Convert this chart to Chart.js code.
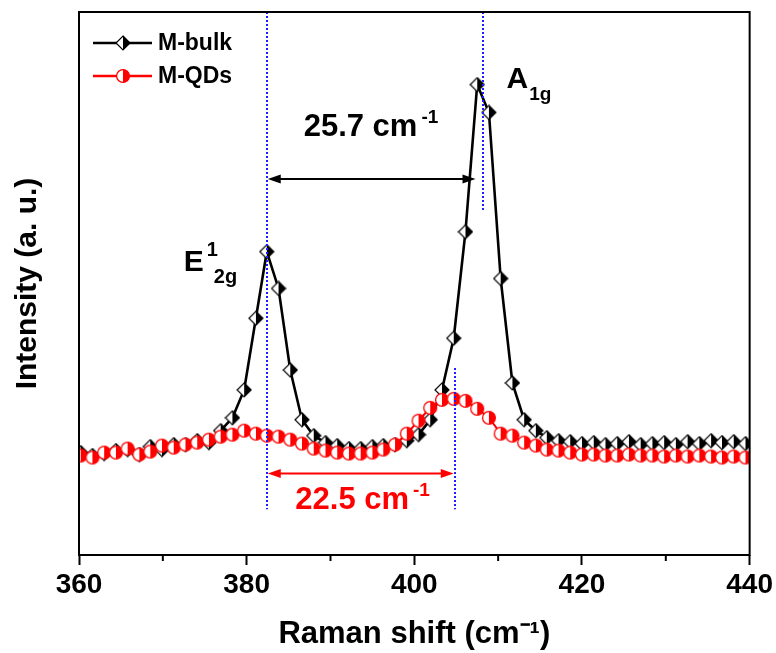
<!DOCTYPE html>
<html><head><meta charset="utf-8">
<script src="https://cdn.jsdelivr.net/npm/chart.js@4.4.1/dist/chart.umd.min.js"></script>
<style>html,body{margin:0;padding:0;background:#fff}#wrap{width:776px;height:653px;position:relative}</style>
</head><body><div id="wrap"><canvas id="c" width="776" height="653"></canvas></div>
<script>
// ---- data ----
const ramanShift = [360.2, 361.6, 363.0, 364.4, 365.8, 367.2, 368.5, 369.9, 371.3, 372.7,
  374.1, 375.5, 376.9, 378.3, 379.7, 381.1, 382.4, 383.8, 385.2, 386.6,
  388.0, 389.4, 390.8, 392.2, 393.6, 395.0, 396.3, 397.7, 399.1, 400.5,
  401.9, 403.3, 404.7, 406.1, 407.5, 408.9, 410.3, 411.7, 413.1, 414.5,
  415.8, 417.2, 418.6, 420.0, 421.4, 422.8, 424.2, 425.6, 427.0, 428.4,
  429.8, 431.2, 432.6, 434.0, 435.4, 436.7, 438.1, 439.5];
const bulkIntensity = [103, 100, 102, 105, 106, 101, 109, 106, 111, 111,
  115, 113, 125, 138, 166, 238, 305, 268, 186, 136,
  120, 113, 110, 107, 107, 109, 110, 111, 115, 121,
  136, 166, 218, 325, 473, 445, 278, 173, 136, 125,
  118, 115, 114, 112, 113, 111, 112, 114, 111, 112,
  113, 111, 114, 112, 115, 113, 114, 112];
const qdsIntensity = [100, 98, 103, 103, 107, 101, 104, 110, 108, 111,
  113, 116, 119, 121, 125, 122, 120, 119, 116, 112,
  107, 105, 103, 102, 102, 103, 106, 111, 122, 135,
  148, 156, 157, 155, 147, 138, 122, 120, 113, 110,
  106, 105, 103, 101, 101, 100, 100, 101, 100, 100,
  99, 100, 99, 100, 99, 98, 99, 98];
const seriesNames = ['M-bulk', 'M-QDs'];
const xTicks = [360, 380, 400, 420, 440];
const xMinorTicks = [370, 390, 410, 430];
const xTitle = 'Raman shift (cm\u207B\u00B9)';
const yTitle = 'Intensity (a. u.)';
// peak positions / shift annotations (data units)
const bulkE2g = 382.4, bulkA1g = 408.2, qdsA1g = 404.9;
const bulkShiftLabel = '25.7 cm', qdsShiftLabel = '22.5 cm', invCm = '-1';

const FONT = "'Liberation Sans', Arial, Helvetica, sans-serif";

function makeDiamond() {
  const c = document.createElement('canvas'); c.width = c.height = 16;
  const g = c.getContext('2d'); const m = 8, r = 7;
  g.beginPath(); g.moveTo(m, m - r); g.lineTo(m, m + r); g.lineTo(m - r, m); g.closePath();
  g.fillStyle = '#fff'; g.fill();
  g.beginPath(); g.moveTo(m, m - r); g.lineTo(m + r, m); g.lineTo(m, m + r); g.closePath();
  g.fillStyle = '#000'; g.fill();
  g.beginPath(); g.moveTo(m, m - r); g.lineTo(m + r, m); g.lineTo(m, m + r); g.lineTo(m - r, m); g.closePath();
  g.lineWidth = 1.2; g.strokeStyle = '#000'; g.stroke();
  return c;
}
function makeHalfCircle() {
  const c = document.createElement('canvas'); c.width = c.height = 16;
  const g = c.getContext('2d'); const m = 8, r = 6.4;
  g.beginPath(); g.arc(m, m, r, 0, Math.PI * 2); g.fillStyle = '#fff'; g.fill();
  g.beginPath(); g.moveTo(m, m - r); g.arc(m, m, r, -Math.PI / 2, Math.PI / 2); g.closePath();
  g.fillStyle = '#ff0000'; g.fill();
  g.beginPath(); g.arc(m, m, r, 0, Math.PI * 2); g.lineWidth = 1.3; g.strokeStyle = '#ff0000'; g.stroke();
  return c;
}
const diamondImg = makeDiamond();
const circleImg = makeHalfCircle();

function arrow(ctx, x1, x2, y, color) {
  ctx.strokeStyle = color; ctx.fillStyle = color; ctx.lineWidth = 2;
  ctx.beginPath(); ctx.moveTo(x1 + 6, y); ctx.lineTo(x2 - 6, y); ctx.stroke();
  const L = 13, W = 4.5;
  ctx.beginPath(); ctx.moveTo(x1, y); ctx.lineTo(x1 + L, y - W); ctx.lineTo(x1 + L, y + W); ctx.closePath(); ctx.fill();
  ctx.beginPath(); ctx.moveTo(x2, y); ctx.lineTo(x2 - L, y - W); ctx.lineTo(x2 - L, y + W); ctx.closePath(); ctx.fill();
}

const annotPlugin = {
  id: 'annot',
  afterDatasetsDraw(chart) {
    const { ctx, chartArea: a, scales: { x, y } } = chart;
    const px = v => x.getPixelForValue(v), py = v => y.getPixelForValue(v);
    ctx.save();
    // blue dotted guide lines
    ctx.strokeStyle = '#1c1cff'; ctx.lineWidth = 2; ctx.setLineDash([2, 2]);
    [[bulkE2g, 546, 46], [bulkA1g, 546, 345], [qdsA1g, 188, 46]].forEach(([xv, y0, y1]) => {
      ctx.beginPath(); ctx.moveTo(Math.round(px(xv)), py(y0)); ctx.lineTo(Math.round(px(xv)), py(y1)); ctx.stroke();
    });
    ctx.setLineDash([]);
    // arrows
    arrow(ctx, px(bulkE2g) + 1, px(407.3), py(378), '#000');
    arrow(ctx, px(bulkE2g) + 1, px(404.7), py(82), '#ff0000');
    // shift labels
    ctx.textBaseline = 'alphabetic'; ctx.textAlign = 'left';
    const sup = (txt, main, xv, yv, color) => {
      ctx.fillStyle = color;
      ctx.font = 'bold 31px ' + FONT;
      ctx.fillText(main, px(xv), py(yv));
      const w = ctx.measureText(main).width;
      ctx.font = 'bold 19px ' + FONT;
      ctx.fillText(txt, px(xv) + w + 4, py(yv) - 13);
    };
    sup(invCm, bulkShiftLabel, 386.8, 421, '#000');
    sup(invCm, qdsShiftLabel, 385.8, 46, '#ff0000');
    // mode labels
    ctx.fillStyle = '#000';
    ctx.font = 'bold 30px ' + FONT;
    ctx.fillText('E', px(372.5), py(286));
    const eW = ctx.measureText('E').width;
    ctx.font = 'bold 20px ' + FONT;
    ctx.fillText('1', px(372.5) + eW + 3, py(286) - 15);
    ctx.fillText('2g', px(372.5) + eW + 10, py(286) + 12);
    ctx.font = 'bold 30px ' + FONT;
    ctx.fillText('A', px(411.0), py(470));
    const aW = ctx.measureText('A').width;
    ctx.font = 'bold 19px ' + FONT;
    ctx.fillText('1g', px(411.0) + aW + 1, py(470) + 12);
    // legend
    const items = [[seriesNames[0], '#000', diamondImg, 31], [seriesNames[1], '#ff0000', circleImg, 64]];
    items.forEach(([name, col, img, dy]) => {
      const ly = a.top + dy;
      ctx.strokeStyle = col; ctx.lineWidth = 2.5;
      ctx.beginPath(); ctx.moveTo(a.left + 14, ly); ctx.lineTo(a.left + 73, ly); ctx.stroke();
      ctx.drawImage(img, a.left + 44 - 8, ly - 8);
      ctx.fillStyle = '#000'; ctx.font = 'bold 23px ' + FONT; ctx.textBaseline = 'middle';
      ctx.fillText(name, a.left + 79, ly + 1);
      ctx.textBaseline = 'alphabetic';
    });
    // frame and minor ticks
    ctx.strokeStyle = '#000'; ctx.lineWidth = 2;
    ctx.strokeRect(a.left, a.top, a.right - a.left, a.bottom - a.top);
    xMinorTicks.forEach(v => {
      ctx.beginPath(); ctx.moveTo(px(v), a.bottom); ctx.lineTo(px(v), a.bottom + 6); ctx.stroke();
    });
    ctx.restore();
  }
};

new Chart(document.getElementById('c'), {
  type: 'scatter',
  data: {
    datasets: [
      {
        label: seriesNames[1], order: 0,
        data: ramanShift.map((v, i) => ({ x: v, y: qdsIntensity[i] })),
        showLine: true, borderColor: '#ff0000', borderWidth: 2, tension: 0,
        pointStyle: circleImg, pointRadius: 7, pointHoverRadius: 7
      },
      {
        label: seriesNames[0], order: 1,
        data: ramanShift.map((v, i) => ({ x: v, y: bulkIntensity[i] })),
        showLine: true, borderColor: '#000', borderWidth: 2.6, tension: 0,
        pointStyle: diamondImg, pointRadius: 7, pointHoverRadius: 7
      }
    ]
  },
  options: {
    responsive: false, animation: false, devicePixelRatio: 1,
    layout: { padding: { left: 0, right: 26, top: 12, bottom: 0 } },
    plugins: { legend: { display: false }, tooltip: { enabled: false } },
    scales: {
      x: {
        type: 'linear', min: 360, max: 440,
        afterBuildTicks: s => { s.ticks = xTicks.map(v => ({ value: v })); },
        ticks: { color: '#000', font: { family: FONT, size: 28, weight: 'bold' }, padding: 3, maxRotation: 0 },
        grid: { display: true, drawOnChartArea: false, drawTicks: true, tickLength: 10, tickWidth: 2, tickColor: '#000' },
        border: { display: false },
        title: { display: true, text: xTitle, color: '#000', font: { family: FONT, size: 31, weight: 'bold' }, padding: { top: 11.2, bottom: 0 } }
      },
      y: {
        min: 0, max: 546,
        ticks: { display: false },
        grid: { display: false, drawTicks: false },
        border: { display: false },
        title: { display: true, text: yTitle, color: '#000', font: { family: FONT, size: 30, weight: 'bold' }, padding: { top: 10, bottom: 33 } }
      }
    }
  },
  plugins: [annotPlugin]
});
</script></body></html>
